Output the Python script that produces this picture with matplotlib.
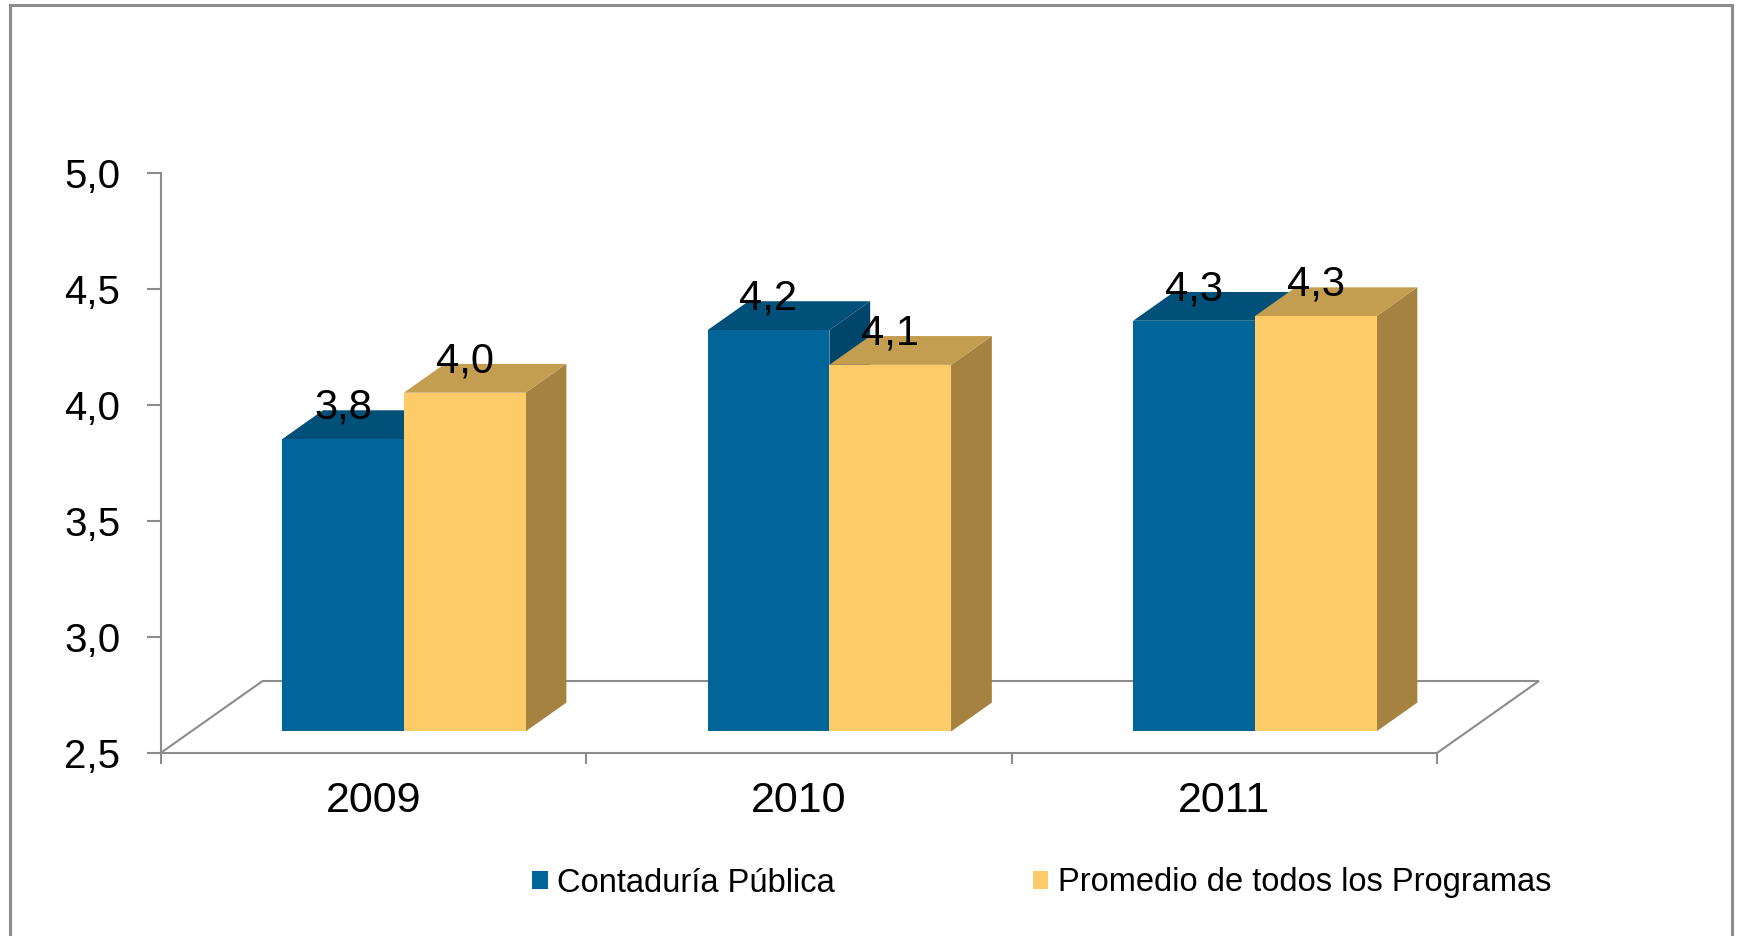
"""Grouped bar chart with an oblique 3D look: Contaduría Pública vs. average of all programmes."""

import matplotlib.pyplot as plt
from matplotlib.patches import Patch, Rectangle

years = ["2009", "2010", "2011"]
series_names = ["Contaduría Pública", "Promedio de todos los Programas"]
contaduria = [3.76, 4.23, 4.27]
promedio = [3.96, 4.08, 4.29]
y_ticks = [2.5, 3.0, 3.5, 4.0, 4.5, 5.0]

# front / top / side shades for each series
SHADES = [
    ("#006699", "#00507a", "#00466b"),
    ("#FDCB67", "#C39D50", "#A58240"),
]
GRAY = "#8c8c8c"
FONT = "Liberation Sans"

Y0 = 2.5                 # floor level
BAR_W = 0.286            # bar width in category units
DEPTH_X, DEPTH_Y = 0.2397, 0.3103   # floor depth vector (category units, value units)
FRONT, BACK = 0.30, 0.70  # bar front/back as a fraction of floor depth


def draw_bar(ax, x_left, value, shades):
    front, top, side = shades
    ox, oy = FRONT * DEPTH_X, FRONT * DEPTH_Y
    bx, by = (BACK - FRONT) * DEPTH_X, (BACK - FRONT) * DEPTH_Y
    xl, xr = x_left + ox, x_left + ox + BAR_W
    yb, yt = Y0 + oy, value + oy
    ax.fill([xr, xr, xr + bx, xr + bx], [yb, yt, yt + by, yb + by], color=side, lw=0, zorder=3)
    ax.fill([xl, xr, xr + bx, xl + bx], [yt, yt, yt + by, yt + by], color=top, lw=0, zorder=3)
    ax.fill([xl, xr, xr, xl], [yb, yb, yt, yt], color=front, lw=0, zorder=3)
    label = f"{value:.1f}".replace(".", ",")
    ax.text((xl + xr) / 2, value + BACK * DEPTH_Y - 0.037, label, ha="center", va="baseline",
            fontsize=30, family=FONT, color="black", zorder=5)


fig = plt.figure(figsize=(17.37, 9.36), dpi=100)
fig.patches.append(Rectangle((10 / 1737, -0.02), 1722 / 1737, 1.02 - 5 / 936, transform=fig.transFigure,
                             fill=False, edgecolor=GRAY, linewidth=2.2))
ax = fig.add_axes([160.6 / 1737, 183 / 936, 1404 / 1737, 580 / 936])
ax.set_xlim(0, 3.3)
ax.set_ylim(Y0, 5.0)

# floor outline (the front edge is the bottom spine)
n = len(years)
ax.plot([0, DEPTH_X, n + DEPTH_X, n], [Y0, Y0 + DEPTH_Y, Y0 + DEPTH_Y, Y0],
        color=GRAY, lw=1.5, zorder=1, clip_on=False, solid_joinstyle="miter")

for i in range(n):
    for j, values in enumerate([contaduria, promedio]):
        draw_bar(ax, i + 0.5 - BAR_W + j * BAR_W, values[i], SHADES[j])

for side in ["top", "right"]:
    ax.spines[side].set_visible(False)
for side in ["left", "bottom"]:
    ax.spines[side].set_color(GRAY)
    ax.spines[side].set_linewidth(1.5)
ax.spines["left"].set_bounds(Y0, 5.0)
ax.spines["bottom"].set_bounds(0, n)

ax.set_yticks(y_ticks)
ax.set_yticklabels([f"{t:.1f}".replace(".", ",") for t in y_ticks], fontsize=29, family=FONT)
ax.tick_params(axis="y", length=10, width=1.5, color=GRAY, pad=19)
ax.set_xticks(range(n + 1))
ax.set_xticklabels([])
ax.tick_params(axis="x", which="major", length=8, width=1.5, color=GRAY, direction="out")
ax.set_xticks([i + 0.5 for i in range(n)], minor=True)
ax.set_xticklabels(years, minor=True, fontsize=31, family=FONT)
ax.tick_params(axis="x", which="minor", length=0, pad=20)

handles = [Patch(facecolor=SHADES[k][0], edgecolor="none", label=series_names[k]) for k in range(2)]
fig.legend(handles=handles, loc="center left", bbox_to_anchor=(532 / 1737, 1 - 883 / 936), ncol=2,
           frameon=False, prop={"family": FONT, "size": 23.5}, handlelength=0.48, handleheight=0.48,
           handletextpad=0.3, columnspacing=6.05, borderpad=0, borderaxespad=0)

fig.savefig("out.png", dpi=100)
